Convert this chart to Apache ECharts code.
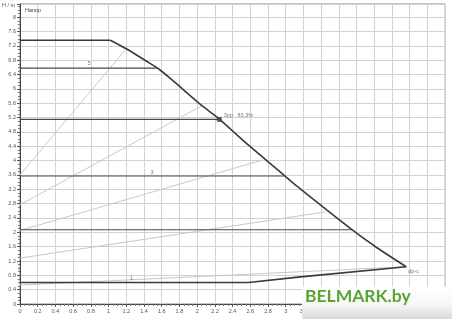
<!DOCTYPE html>
<html><head><meta charset="utf-8">
<script src="https://cdn.jsdelivr.net/npm/echarts@6/dist/echarts.min.js"></script>
<style>html,body{margin:0;padding:0;background:#fff}#c{width:452px;height:319px}</style>
</head><body><div id="c"></div>
<script>
// ---- data (x: flow, y: head H / m) ----
const maxFlat = [[0,7.36],[1.02,7.36]];
const maxDrop = [[1.02,7.36],[1.2,7.12],[1.45,6.74],[1.57,6.55],[1.7,6.29],[1.83,6.01],[2.05,5.54],[2.25,5.16],[2.58,4.43],[2.95,3.66],[3.13,3.28],[3.77,2.03],[4.03,1.57],[4.36,1.04]];
const minCurve = [[0,0.6],[2.58,0.6],[3.14,0.75],[4.36,1.04]];
const dpcLevels = [6.58, 5.15, 3.57, 2.07];
const dpcEnds   = [1.56, 2.25, 2.99, 3.75];
const dpvStarts = [[0,3.6],[0,2.77],[0,2.05],[0,1.28],[0,0.53]];
const dpvEnds   = [[1.2,7.12],[2.06,5.54],[2.74,4.02],[3.45,2.57],[4.36,1.04]];
const curveLabels = [['5',0.78,6.72],['3',1.49,3.67],['1',1.26,0.71]];
const dutyPoint = [2.25,5.15];
const dutyLabel = '3pp   83.3%';
const endPoint = [4.36,1.04];
const endLabel = 'dp-c';
const yName = 'H / m';
const chartTitle = 'Напор';
const watermark = 'BELMARK.by';

const FONT = 'Liberation Sans';
const TXT = {fontFamily: FONT, fontSize: 5.5, color: '#555'};

const series = [];
dpvStarts.forEach((s, i) => {
  series.push({type:'line', data:[s, dpvEnds[i]], symbol:'none', silent:true,
    lineStyle:{color:'#c8c8c8', width:1}, z:2});
});
dpcLevels.forEach((h, i) => {
  series.push({type:'line', data:[[0,h],[dpcEnds[i],h]], symbol:'none', silent:true,
    lineStyle:{color:'#4a4a4a', width:1.1}, z:3});
});
series.push({type:'line', data:maxFlat, symbol:'none', lineStyle:{color:'#3a3a3a', width:1.6}, z:4});
series.push({type:'line', data:maxDrop, symbol:'none', smooth:0.25,
  lineStyle:{color:'#3a3a3a', width:1.6}, z:4});
series.push({type:'line', data:minCurve, symbol:'none', lineStyle:{color:'#3a3a3a', width:1.6}, z:4});
series.push({type:'scatter', data:curveLabels.map(d => ({value:[d[1],d[2]], name:d[0]})),
  symbolSize:0.1, itemStyle:{color:'rgba(0,0,0,0)'},
  label:{show:true, position:'inside', formatter:p => p.name, ...TXT}, z:5});
series.push({type:'scatter', data:[dutyPoint], symbol:'rect', symbolSize:5,
  itemStyle:{color:'#3a4048'},
  label:{show:true, position:'right', distance:2, offset:[0,-4], formatter:dutyLabel, ...TXT}, z:6});
series.push({type:'scatter', data:[endPoint], symbolSize:0.1, itemStyle:{color:'rgba(0,0,0,0)'},
  label:{show:true, position:'right', distance:2, offset:[0,5], formatter:endLabel, ...TXT}, z:6});

const chart = echarts.init(document.getElementById('c'), null, {renderer:'canvas'});
chart.setOption({
  animation:false,
  backgroundColor:'#fff',
  grid:{left:20, right:4, top:4, bottom:15, show:true, borderColor:'#8a8a8a', borderWidth:1, backgroundColor:'#fff'},
  xAxis:{type:'value', min:0, max:4.8, interval:0.2,
    axisLine:{show:true, lineStyle:{color:'#444'}},
    axisTick:{show:true, length:3, lineStyle:{color:'#555'}},
    minorTick:{show:true, splitNumber:4, length:2, lineStyle:{color:'#777'}},
    axisLabel:{...TXT, margin:4, showMaxLabel:true},
    splitLine:{show:true, lineStyle:{color:'#d2d2d2', width:1}}},
  yAxis:{type:'value', min:0, max:8.37, interval:0.4,
    axisLine:{show:true, lineStyle:{color:'#444'}},
    axisTick:{show:true, length:3, lineStyle:{color:'#555'}},
    minorTick:{show:true, splitNumber:4, length:2, lineStyle:{color:'#777'}},
    axisLabel:{...TXT, margin:4, formatter:v => {
      const k = Math.round(v/0.4); return Math.abs(k*0.4 - v) < 1e-6 ? String(+(k*0.4).toFixed(1)) : '';}},
    splitLine:{show:true, lineStyle:{color:'#d2d2d2', width:1}}},
  series:series,
  graphic:[
    {type:'text', left:2, top:2, z:50, style:{text:yName, font:'5.5px "Liberation Sans"', fill:'#555'}},
    {type:'text', left:25, top:7, z:50, style:{text:chartTitle, font:'5.5px "Liberation Sans"', fill:'#444'}},
    {type:'rect', left:302, top:287, z:100, shape:{width:150, height:32},
      style:{fill:{type:'linear', x:0, y:0, x2:0, y2:1, colorStops:[
        {offset:0, color:'#ffffff'},{offset:0.55, color:'#f6f6f6'},{offset:1, color:'#dadada'}]}}},
    {type:'text', left:305, top:287, z:101,
      style:{text:watermark, font:'bold 17.5px Lato', fill:'#5aa435'}}
  ]
});
</script></body></html>
